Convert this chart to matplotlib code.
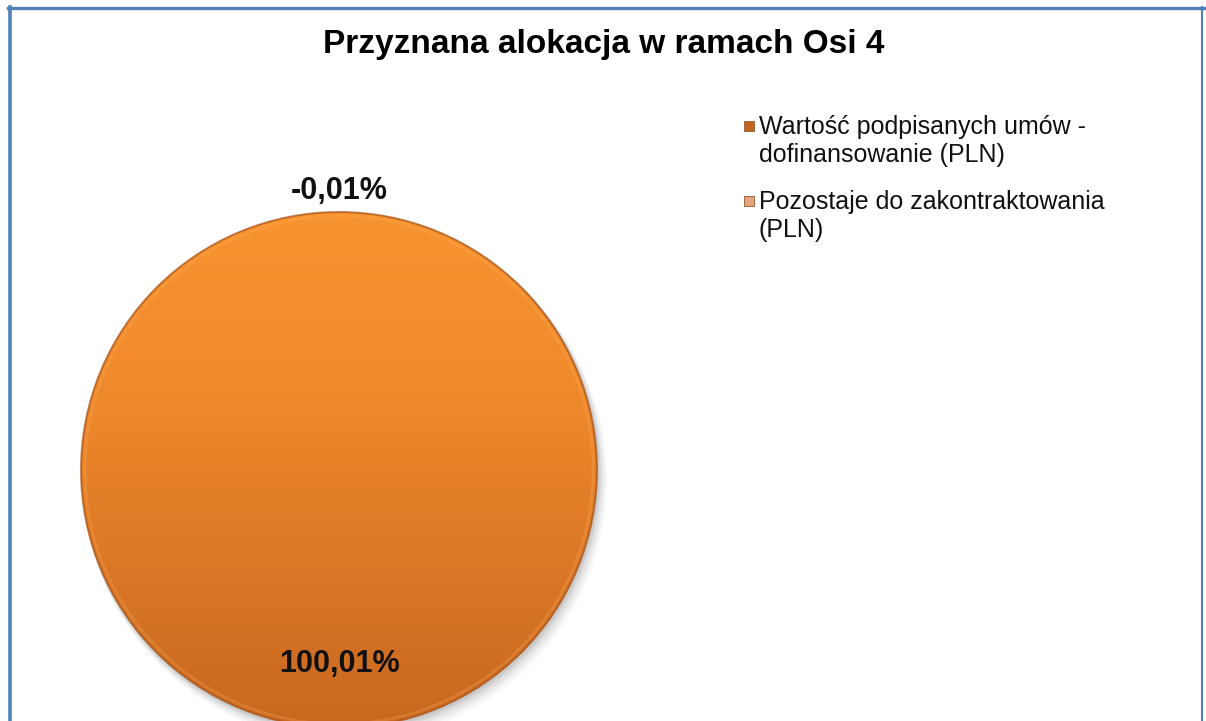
import numpy as np
import matplotlib
matplotlib.use("Agg")
import matplotlib.pyplot as plt
from matplotlib.colors import LinearSegmentedColormap
from matplotlib.patches import Circle, Rectangle
from matplotlib.lines import Line2D

# ---- data ----
title = "Przyznana alokacja w ramach Osi 4"
categories = ["Wartość podpisanych umów -\ndofinansowanie (PLN)",
              "Pozostaje do zakontraktowania\n(PLN)"]
values = [100.01, -0.01]          # share of the allocation (%)
legend_colors = ["#C4661F", "#E6A47A"]

W, H = 1206, 721
fig = plt.figure(figsize=(W / 100, H / 100), dpi=100)
fig.patch.set_facecolor("white")

# pie axes: square in pixels, centre at (339, 470 from top), radius 258 px
R = 258.0
cx, cy = 339.0, H - 470.0
half = 300.0
ax = fig.add_axes([(cx - half) / W, (cy - half) / H, 2 * half / W, 2 * half / H])
ax.set_axis_off()

vals = np.array(values, dtype=float)
pcts = vals / vals.sum() * 100
draw_vals = np.clip(vals, 0, None)

# soft shadow
for off, a in [(10, 0.04), (8, 0.05), (6, 0.07), (4, 0.09), (2.5, 0.1)]:
    ax.add_patch(Circle((off / R * 0.6, -off / R), 1.0 + off / R * 0.4,
                        facecolor="#5a5a5a", alpha=a, edgecolor="none", zorder=0))

wedges, _ = ax.pie(draw_vals, startangle=90, counterclock=False, radius=1.0,
                   colors=legend_colors, wedgeprops=dict(linewidth=0))

# vertical gradient fill for main slice
cmap = LinearSegmentedColormap.from_list(
    "og", ["#C86820", "#DC7826", "#F08A2C", "#F8942F"])
grad = np.linspace(0, 1, 256).reshape(-1, 1)
im = ax.imshow(grad, extent=[-1, 1, -1, 1], origin="lower", cmap=cmap,
               aspect="auto", zorder=2, interpolation="bicubic")
im.set_clip_path(wedges[0])
# rim
ax.add_patch(Circle((0, 0), 1.0, facecolor="none", edgecolor="#A8541A",
                    linewidth=1.4, alpha=0.7, zorder=3))
ax.add_patch(Circle((0, 0), 0.985, facecolor="none", edgecolor="#FFB060",
                    linewidth=2.0, alpha=0.25, zorder=3))

lim = half / R
ax.set_xlim(-lim, lim)
ax.set_ylim(-lim, lim)

# data labels
dists = [0.752, 1.08]
weights = ["bold", "bold"]
for w, p, d, fw in zip(wedges, pcts, dists, weights):
    ang = np.deg2rad((w.theta1 + w.theta2) / 2)
    lab = f"{p:.2f}%".replace(".", ",")
    ax.text(d * np.cos(ang), d * np.sin(ang), lab, ha="center", va="center",
            fontsize=22, fontweight=fw, family="Liberation Sans", color="#111111",
            zorder=5)

# title
fig.text(604 / W, 1 - 45 / H, title, ha="center", va="center", fontsize=24,
         fontweight="bold", family="Liberation Sans", color="black")

# legend (manual)
leg_y = [126, 201]
for lab, col, y in zip(categories, legend_colors, leg_y):
    fig.patches.append(Rectangle((744 / W, 1 - (y + 5) / H), 10 / W, 10 / H,
                                 transform=fig.transFigure, facecolor=col,
                                 edgecolor="#8a5a30", linewidth=0.6))
    fig.text(759 / W, 1 - (y - 11) / H, lab, ha="left", va="top", fontsize=18,
             family="Liberation Sans", color="#111111", linespacing=1.22)

# border
bc = "#4F81BD"
fig.add_artist(Line2D([9.5 / W, 9.5 / W], [0, 1 - 7 / H], color=bc, lw=2.6,
                      transform=fig.transFigure))
fig.add_artist(Line2D([8 / W, 1], [1 - 7.5 / H, 1 - 7.5 / H], color=bc, lw=2.4,
                      transform=fig.transFigure))
fig.add_artist(Line2D([1202 / W, 1202 / W], [0, 1 - 7 / H], color=bc, lw=1.5,
                      transform=fig.transFigure))

fig.savefig("out.png", dpi=100, facecolor="white")
